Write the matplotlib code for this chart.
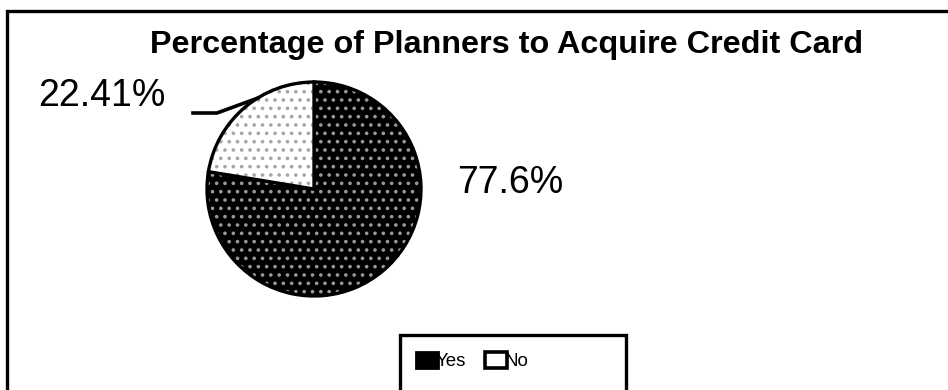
import matplotlib
matplotlib.use("Agg")
import matplotlib.pyplot as plt
from matplotlib.patches import Rectangle, Patch

plt.rcParams['font.family'] = ['Liberation Sans', 'DejaVu Sans']
plt.rcParams['hatch.linewidth'] = 1.4

title = "Percentage of Planners to Acquire Credit Card"
categories = ["Yes", "No"]
values = [77.6, 22.41]

W, H = 948, 390
fig = plt.figure(figsize=(W / 100, H / 100), dpi=100)
ax = fig.add_axes([0, 0, 1, 1])
ax.set_xlim(0, W)
ax.set_ylim(0, H)
ax.set_aspect('equal')
ax.axis('off')

# outer chart frame (clipped on the right and bottom)
ax.plot([7, 7, W + 5], [-5, 379, 379], color='black', lw=2.4, solid_joinstyle='miter')

ax.text(507, 345, title, ha='center', va='center', fontsize=23.3, fontweight='bold')

cx, cy, r = 314, 201, 107
wedges, _ = ax.pie(values, center=(cx, cy), radius=r, startangle=90, counterclock=False,
                   colors=['black', 'white'],
                   wedgeprops=dict(edgecolor='black', linewidth=2.4))
wedges[0].set_hatch('..')
wedges[1].set_hatch('..')
ax.set_xlim(0, W)
ax.set_ylim(0, H)

# hatch colours: light dots on the dark wedge, grey dots on the white one
wedges[0]._hatch_color = (0.6, 0.6, 0.6, 1)
wedges[1]._hatch_color = (0.65, 0.65, 0.65, 1)

ax.text(510, 207, f"{values[0]}%", ha='center', va='center', fontsize=27)
ax.text(102, 294, f"{values[1]}%", ha='center', va='center', fontsize=27)

# leader line to the smaller slice
ax.plot([193, 217, 258], [277, 277, 292], color='black', lw=2.6, solid_joinstyle='round')

# legend box
ax.add_patch(Rectangle((400, -10), 226, 65, facecolor='white', edgecolor='black', lw=2.4))
handles = [Patch(facecolor='black', edgecolor='black', lw=2, label=categories[0]),
           Patch(facecolor='white', edgecolor='black', lw=2.6, label=categories[1])]
leg = ax.legend(handles=handles, loc='center', bbox_to_anchor=(472 / W, (390 - 361) / H),
                ncol=2, frameon=False, fontsize=13.5, handlelength=1.2, handleheight=1.0,
                handletextpad=-0.15, columnspacing=1.0, borderpad=0)

fig.savefig("out.png", dpi=100)
